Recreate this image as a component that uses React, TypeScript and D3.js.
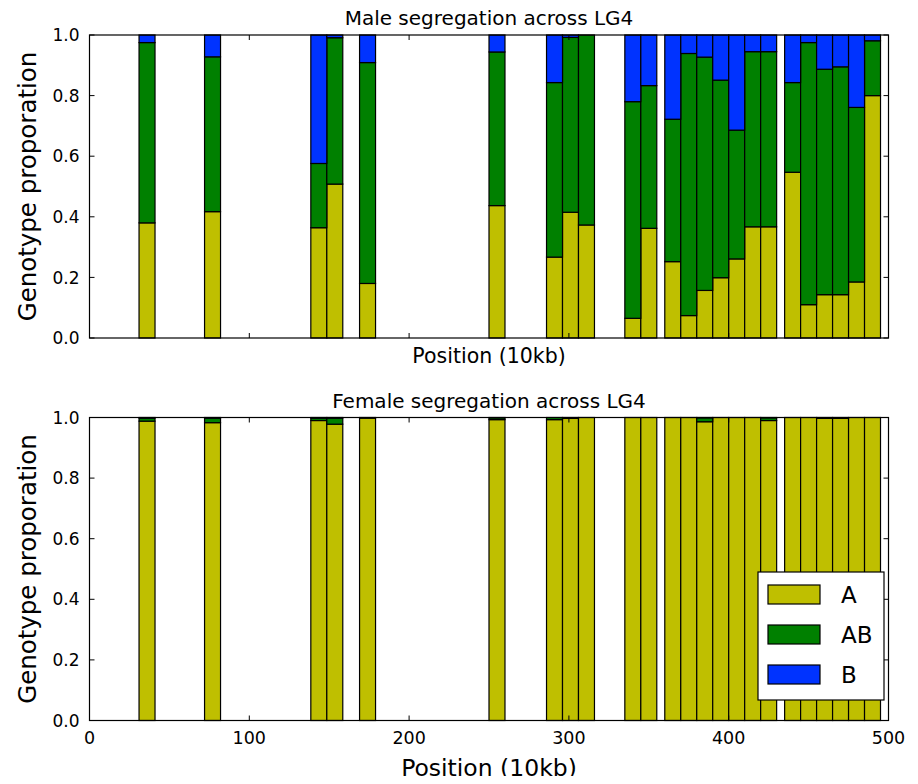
import React, { useEffect, useRef } from 'react';
import * as d3 from 'd3';

// bar left edges (10kb units), width 10
const positions = [31, 72, 138.5, 148.5, 169, 250, 286, 296, 306, 335, 345, 360, 370, 380, 390, 400, 410, 420, 435, 445, 455, 465, 475, 485];

const maleA = [0.38, 0.417, 0.364, 0.508, 0.18, 0.437, 0.267, 0.415, 0.373, 0.065, 0.362, 0.252, 0.074, 0.157, 0.199, 0.261, 0.367, 0.367, 0.547, 0.11, 0.143, 0.143, 0.185, 0.8];
const maleAB = [0.595, 0.511, 0.212, 0.483, 0.729, 0.507, 0.576, 0.577, 0.627, 0.715, 0.471, 0.47, 0.865, 0.77, 0.652, 0.425, 0.578, 0.578, 0.296, 0.865, 0.744, 0.752, 0.576, 0.181];
const maleB = [0.025, 0.072, 0.424, 0.009, 0.091, 0.056, 0.157, 0.008, 0, 0.22, 0.167, 0.278, 0.061, 0.073, 0.149, 0.314, 0.055, 0.055, 0.157, 0.025, 0.113, 0.105, 0.239, 0.019];

const femaleA = [0.988, 0.983, 0.99, 0.978, 0.998, 0.993, 0.993, 0.997, 1, 1, 1, 1, 1, 0.986, 1, 1, 1, 0.99, 1, 1, 0.997, 0.997, 1, 1];
const femaleAB = [0.01, 0.015, 0.008, 0.02, 0.002, 0.006, 0.007, 0.003, 0, 0, 0, 0, 0, 0.013, 0, 0, 0, 0.009, 0, 0, 0.003, 0.003, 0, 0];
const femaleB = [0.002, 0.002, 0.002, 0.002, 0, 0.001, 0, 0, 0, 0, 0, 0, 0, 0.001, 0, 0, 0, 0.001, 0, 0, 0, 0, 0, 0];

const genotypes = ['A', 'AB', 'B'];
const colors = ['#bfbf00', '#008000', '#0033ff'];
const yTicks = [0, 0.2, 0.4, 0.6, 0.8, 1.0];
const xTicks = [0, 100, 200, 300, 400, 500];

const FONT = 'DejaVu Sans';

const App = () => {
  const svgRef = useRef<SVGSVGElement>(null);

  useEffect(() => {
    const svg = d3.select(svgRef.current);
    svg.selectAll('*').remove();

    const left = 89.5;
    const right = 888.5;
    const x = d3.scaleLinear().domain([0, 500]).range([left, right]);

    const panels = [
      { title: 'Male segregation across LG4', top: 35, bottom: 338, A: maleA, AB: maleAB, B: maleB, xLabels: false },
      { title: 'Female segregation across LG4', top: 417.5, bottom: 720.5, A: femaleA, AB: femaleAB, B: femaleB, xLabels: true },
    ];

    panels.forEach((p) => {
      const y = d3.scaleLinear().domain([0, 1]).range([p.bottom, p.top]);
      const g = svg.append('g');

      const rows = positions.map((pos, i) => ({ pos, A: p.A[i], AB: p.AB[i], B: p.B[i] }));
      const stack = d3.stack<any>().keys(genotypes)(rows);

      stack.forEach((layer, k) => {
        g.selectAll(null)
          .data(layer)
          .enter()
          .append('rect')
          .attr('x', (d: any) => x(d.data.pos))
          .attr('width', x(10) - x(0))
          .attr('y', (d: any) => y(d[1]))
          .attr('height', (d: any) => Math.max(0, y(d[0]) - y(d[1])))
          .attr('fill', colors[k])
          .attr('stroke', '#000')
          .attr('stroke-width', 1.2);
      });

      // frame
      g.append('rect')
        .attr('x', left)
        .attr('y', p.top)
        .attr('width', right - left)
        .attr('height', p.bottom - p.top)
        .attr('fill', 'none')
        .attr('stroke', '#000')
        .attr('stroke-width', 1.2);

      // inward ticks
      yTicks.forEach((t) => {
        g.append('line').attr('x1', left).attr('x2', left + 5).attr('y1', y(t)).attr('y2', y(t)).attr('stroke', '#000');
        g.append('line').attr('x1', right).attr('x2', right - 5).attr('y1', y(t)).attr('y2', y(t)).attr('stroke', '#000');
        g.append('text')
          .attr('x', left - 10)
          .attr('y', y(t))
          .attr('dy', '0.36em')
          .attr('text-anchor', 'end')
          .attr('font-family', FONT)
          .attr('font-size', 17)
          .text(t.toFixed(1));
      });
      xTicks.forEach((t) => {
        g.append('line').attr('x1', x(t)).attr('x2', x(t)).attr('y1', p.bottom).attr('y2', p.bottom - 5).attr('stroke', '#000');
        g.append('line').attr('x1', x(t)).attr('x2', x(t)).attr('y1', p.top).attr('y2', p.top + 5).attr('stroke', '#000');
        if (p.xLabels) {
          g.append('text')
            .attr('x', x(t))
            .attr('y', p.bottom + 23)
            .attr('text-anchor', 'middle')
            .attr('font-family', FONT)
            .attr('font-size', 17.5)
            .text(t);
        }
      });

      g.append('text')
        .attr('x', (left + right) / 2)
        .attr('y', p.top - 10)
        .attr('text-anchor', 'middle')
        .attr('font-family', FONT)
        .attr('font-size', 20)
        .text(p.title);

      g.append('text')
        .attr('transform', `translate(36,${(p.top + p.bottom) / 2}) rotate(-90)`)
        .attr('text-anchor', 'middle')
        .attr('font-family', FONT)
        .attr('font-size', 24.5)
        .text('Genotype proporation');

      g.append('text')
        .attr('x', (left + right) / 2)
        .attr('y', p.xLabels ? p.bottom + 55 : p.bottom + 25)
        .attr('text-anchor', 'middle')
        .attr('font-family', FONT)
        .attr('font-size', p.xLabels ? 23.5 : 20.5)
        .text('Position (10kb)');
    });

    // legend
    const lg = svg.append('g').attr('transform', 'translate(758,572)');
    lg.append('rect').attr('width', 126).attr('height', 128).attr('fill', '#fff').attr('stroke', '#000').attr('stroke-width', 1.2);
    genotypes.forEach((name, i) => {
      lg.append('rect')
        .attr('x', 10)
        .attr('y', 13 + i * 40)
        .attr('width', 52)
        .attr('height', 19)
        .attr('fill', colors[i])
        .attr('stroke', '#000')
        .attr('stroke-width', 1.2);
      lg.append('text')
        .attr('x', 83)
        .attr('y', 23 + i * 40)
        .attr('dy', '0.36em')
        .attr('font-family', FONT)
        .attr('font-size', 23)
        .text(name);
    });
  }, []);

  return <svg ref={svgRef} width={918} height={784} style={{ display: 'block', margin: -8 }} />;
};

export default App;
